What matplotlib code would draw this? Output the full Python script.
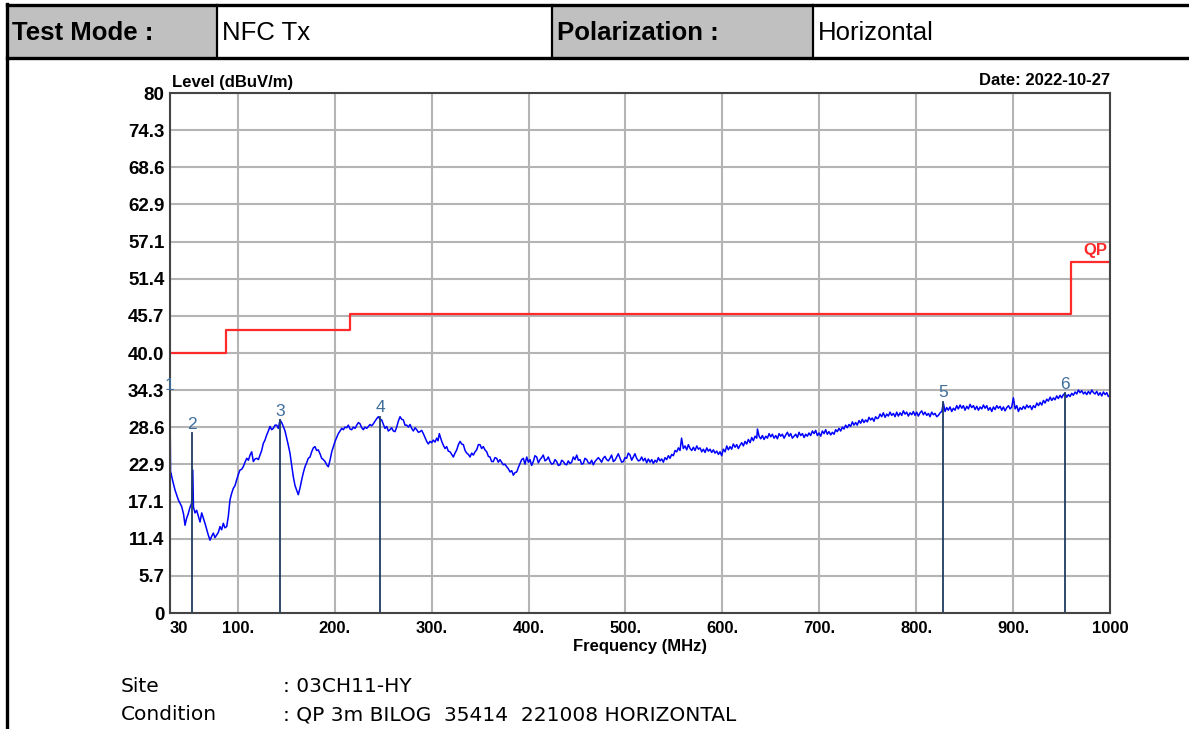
import numpy as np
import matplotlib.pyplot as plt
from matplotlib.patches import Rectangle

plt.rcParams['font.family'] = ['Liberation Sans', 'DejaVu Sans']

freq_a = [30.0, 30.6, 31.0, 33.0, 35.2, 38.6, 42.0, 44.0, 45.5, 47.0, 48.9, 50.5, 52.4, 53.5, 54.2,
          55.8, 57.5, 59.2, 61.0, 62.7, 64.4, 66.1, 67.8, 69.5, 71.3, 73.0, 74.7, 76.4, 78.2, 79.9,
          81.6, 83.3, 85.0, 86.7, 88.5, 90.2, 91.9, 93.6, 95.4, 97.1, 98.8, 100.5, 102.2, 103.9,
          105.6, 107.4, 109.2, 110.9, 112.6, 114.3, 116.0, 117.8, 119.5, 121.2, 122.9, 124.6,
          126.3, 128.0, 129.8, 131.5, 133.2, 134.9, 136.6, 138.4, 140.1, 141.8, 143.5, 145.2,
          146.9, 148.7, 150.4, 152.1, 153.8, 155.5, 157.2, 159.0, 160.7, 162.4, 164.1, 165.9,
          167.6, 169.3, 171.0, 172.7, 174.5, 176.2, 177.9, 179.6, 181.3, 183.0, 184.8, 186.5,
          188.2, 190.0, 191.7, 193.4, 195.1, 196.9, 198.6, 200.3, 202.0, 203.7, 205.5, 207.2,
          208.9, 210.6, 212.3, 214.0, 215.8, 217.5, 219.2, 221.0, 222.7, 224.4, 226.1, 227.8,
          229.5, 231.2, 233.0, 234.7, 236.4, 238.1, 239.8, 241.5, 243.3, 245.0, 246.7, 248.5,
          250.2, 251.9, 253.6, 255.3, 257.0, 258.7, 260.5, 262.2, 263.9, 265.6, 267.4, 269.1,
          270.8, 272.5, 274.3, 276.0, 277.7, 279.4, 281.1, 282.9, 284.6, 286.3, 288.0, 289.7,
          291.4, 293.1, 294.9, 296.6, 298.3, 300.0, 301.7, 303.5, 305.2, 306.6, 307.9, 310.4,
          312.1, 313.8, 315.5, 317.2, 319.0, 320.7, 322.4, 324.1, 325.9, 327.6, 329.3, 331.0,
          332.7, 334.5, 336.2, 337.9, 339.6, 341.3, 343.0, 344.8, 346.5, 348.2, 349.9, 351.6,
          353.3, 355.0, 356.8, 358.5, 360.2, 361.9, 363.6, 365.3, 367.1, 368.8, 370.5, 372.2,
          373.9, 375.6, 377.4, 379.1, 380.9, 382.6, 384.3, 386.0, 387.8, 389.5, 391.2, 392.9,
          394.6, 396.3, 398.1, 399.8, 401.5, 403.2, 404.9, 406.6, 408.4, 410.1, 411.8, 413.5,
          415.2, 417.0, 418.7, 420.4, 422.2, 423.9, 425.6, 427.3, 429.0, 430.7, 432.5, 434.2,
          435.9, 437.6, 439.3, 441.0, 442.8, 444.5, 446.2, 447.9, 449.7, 451.4, 453.1, 454.8,
          456.5, 458.2, 460.0, 461.7, 463.4, 465.1, 466.8, 468.5, 470.3, 472.0, 473.7, 475.4,
          477.1, 478.8, 480.6, 482.3, 484.0, 485.7, 487.5, 489.2, 490.9, 492.6, 494.4, 496.1,
          497.8, 499.5, 501.2, 502.9, 504.7, 506.4, 508.1, 509.8, 511.5, 513.3]
level_a = [32.3, 21.0, 21.5, 20.2, 18.9, 17.4, 16.4, 15.2, 13.5, 14.5, 15.3, 16.2, 16.9, 22.0, 16.3,
           15.4, 15.8, 14.9, 14.0, 15.4, 14.6, 13.8, 12.9, 12.0, 11.2, 11.8, 12.3, 11.6, 12.0, 12.4,
           13.3, 12.8, 13.8, 13.1, 13.3, 14.9, 17.4, 18.4, 19.2, 19.6, 20.5, 21.3, 22.0, 22.1,
           22.5, 23.2, 23.8, 23.5, 24.3, 24.8, 23.3, 23.7, 23.8, 23.6, 24.3, 25.0,
           26.1, 26.6, 27.4, 28.0, 28.7, 28.2, 28.4, 28.9, 28.9, 28.4, 29.7, 29.3,
           28.7, 28.0, 26.9, 25.8, 24.6, 22.8, 21.0, 19.6, 18.9, 18.2, 19.2, 20.5,
           21.6, 22.5, 23.1, 23.8, 24.0, 24.8, 25.4, 25.6, 25.0, 25.1, 24.5, 23.8,
           23.6, 23.3, 22.8, 22.5, 23.5, 24.8, 25.6, 26.4, 27.0, 27.6, 28.0, 28.4,
           28.2, 28.6, 28.5, 28.9, 28.3, 28.2, 28.6, 28.4, 28.9, 29.3, 29.1, 28.5,
           28.2, 28.6, 28.4, 28.7, 29.0, 28.8, 29.1, 29.5, 29.9, 30.2, 29.8, 29.7,
           29.0, 28.4, 28.7, 28.0, 28.2, 28.5, 28.0, 27.9, 28.6, 29.5, 30.2, 29.8,
           29.7, 28.9, 28.9, 28.6, 29.0, 28.4, 28.0, 28.5, 28.2, 27.8, 27.9, 28.1,
           27.6, 27.0, 26.4, 26.0, 26.4, 26.2, 26.6, 26.3, 26.9, 26.5, 27.6, 26.4,
           25.8, 25.3, 25.6, 24.9, 24.8, 24.4, 24.0, 24.6, 25.1, 25.9, 26.4, 26.0,
           25.9, 25.0, 24.6, 24.4, 24.0, 24.6, 24.3, 24.8, 25.1, 25.9, 25.9, 25.3,
           25.6, 25.1, 24.8, 24.1, 24.0, 23.3, 23.3, 23.9, 23.8, 23.2, 23.6, 23.2,
           22.8, 22.9, 22.5, 22.2, 21.7, 21.9, 21.2, 21.6, 21.7, 22.4, 23.0, 23.6,
           23.8, 22.9, 24.0, 23.2, 23.6, 22.7, 23.3, 24.2, 24.0, 23.1, 23.6, 23.9,
           24.3, 23.4, 23.6, 24.0, 23.3, 22.9, 23.0, 23.6, 23.3, 22.7, 22.8, 23.5,
           23.3, 22.9, 22.8, 23.4, 23.0, 23.2, 24.0, 23.6, 24.3, 23.5, 23.6, 22.9,
           23.0, 23.8, 23.6, 23.1, 23.0, 23.5, 22.8, 23.3, 23.6, 23.9, 23.6, 23.2,
           23.8, 24.1, 23.6, 23.4, 23.8, 24.3, 23.3, 23.5, 24.0, 24.5, 23.8, 23.2,
           23.3, 23.9, 23.8, 24.6, 24.3, 23.5, 24.0, 24.5, 23.8, 23.4]

freq_b = [515.0, 516.7, 518.4, 520.2, 521.9, 523.6, 525.4, 527.1, 528.8, 530.5,
          532.2, 533.9, 535.7, 537.4, 539.1, 540.8, 542.5, 544.3, 546.0, 547.7,
          549.4, 551.2, 552.9, 554.6, 556.3, 557.9, 559.7, 561.5, 563.2, 564.9,
          566.7, 568.4, 570.1, 571.8, 573.6, 575.3, 577.0, 578.7, 580.4, 582.1,
          583.9, 585.6, 587.3, 589.0, 590.7, 592.4, 594.2, 595.9, 597.6, 599.3,
          601.0, 602.8, 604.5, 606.2, 607.9, 609.6, 611.3, 613.1, 614.8, 616.5,
          618.2, 620.0, 621.7, 623.4, 625.1, 626.8, 628.6, 630.3, 632.0, 633.7,
          635.5, 636.2, 637.9, 639.6, 641.3, 643.0, 644.8, 646.5, 648.2, 649.9,
          651.6, 653.3, 655.1, 656.8, 658.5, 660.2, 661.9, 663.7, 665.4, 667.1,
          668.8, 670.5, 672.2, 674.0, 675.7, 677.4, 679.1, 680.8, 682.6, 684.3,
          686.0, 687.7, 689.4, 691.1, 692.9, 694.6, 696.3, 698.0, 699.7, 701.5,
          703.2, 704.9, 706.6, 708.3, 710.0, 711.8, 713.5, 715.2, 716.9, 718.6,
          720.3, 722.1, 723.8, 725.5, 727.2, 728.9, 730.7, 732.4, 734.1, 735.8,
          737.5, 739.2, 741.0, 742.7, 744.4, 746.1, 747.8, 749.6, 751.3, 753.0,
          754.7, 756.4, 758.1, 759.8]
level_b = [23.5, 24.0, 23.4, 23.8, 23.1, 23.7, 23.2, 23.6, 23.0, 23.5,
           23.2, 23.9, 23.4, 23.7, 23.2, 23.9, 23.6, 24.2, 23.8, 24.4,
           24.2, 25.0, 24.8, 25.4, 25.0, 26.9, 25.3, 25.7, 25.1, 25.9,
           25.3, 25.0, 25.5, 25.0, 25.7, 25.2, 25.4, 24.8, 25.2, 24.7,
           25.4, 24.9, 25.2, 24.7, 25.1, 24.6, 24.9, 24.4, 24.8, 24.2,
           25.2, 24.8, 25.7, 25.1, 25.6, 25.2, 26.0, 25.5, 25.9, 25.3,
           25.8, 26.2, 25.7, 26.4, 26.0, 26.7, 26.2, 27.0, 26.5, 27.2,
           26.9, 28.3, 27.2, 26.8, 27.3, 26.7, 27.2, 26.9, 27.6, 27.1,
           27.5, 26.9, 27.3, 26.8, 27.6, 27.2, 27.5, 26.9, 27.4, 27.8,
           27.2, 27.6, 26.9, 27.2, 27.5, 27.0, 27.8, 27.3, 27.6, 27.0,
           27.5, 27.2, 27.7, 27.3, 28.0, 27.6, 28.1, 27.3, 27.7, 27.2,
           28.0, 27.6, 28.2, 27.5, 27.9, 27.4, 27.8, 27.5, 28.2, 27.9,
           28.4, 28.0, 28.6, 28.3, 28.9, 28.5, 29.0, 28.7, 29.4, 28.9,
           29.3, 28.9, 29.6, 29.2, 29.8, 29.3, 29.7, 29.4, 30.1, 29.7,
           30.0, 29.5, 30.2, 29.9]

freq_c = [761.0, 762.7, 764.4, 766.1, 767.9, 769.6, 771.3, 773.0, 774.7, 776.5,
          778.2, 779.9, 781.6, 783.4, 785.1, 786.8, 788.5, 790.2, 791.9, 793.7,
          795.4, 797.1, 798.8, 800.5, 802.2, 804.0, 805.7, 807.4, 809.1, 810.9,
          812.6, 814.3, 816.0, 817.8, 819.5, 821.2, 822.9, 824.7, 826.4, 828.0,
          829.8, 831.5, 833.2, 834.9, 836.7, 838.4, 840.1, 841.8, 843.5, 845.3,
          847.0, 848.7, 850.4, 852.2, 853.9, 855.6, 857.3, 859.1, 860.8, 862.5,
          864.2, 866.0, 867.7, 869.4, 871.1, 872.8, 874.5, 876.3, 878.0, 879.7,
          881.4, 883.1, 884.9, 886.6, 888.3, 890.0, 891.7, 893.5, 895.2, 896.9,
          898.6, 900.3, 902.1, 903.8, 905.5, 907.2, 909.0, 910.7, 912.4, 914.1,
          915.8, 917.6, 919.3, 921.0, 922.7, 924.5, 926.2, 927.9, 929.6, 931.3,
          933.0, 934.7, 936.4, 938.2, 939.9, 941.6, 943.3, 945.0, 946.7, 948.5,
          950.2, 951.9, 953.6, 955.3, 957.1, 958.8, 960.5, 962.2, 964.0, 965.7,
          967.4, 969.1, 970.9, 972.6, 974.3, 976.0, 977.7, 979.5, 981.2, 982.9,
          984.6, 986.3, 988.1, 989.8, 991.5, 993.2, 995.0, 996.7, 998.3, 1000.0]
level_c = [30.0, 30.6, 30.2, 30.8, 30.1, 30.6, 30.3, 30.9, 30.4, 30.7,
           30.2, 30.9, 30.3, 30.8, 30.4, 31.1, 30.6, 30.9, 30.3, 30.8,
           30.5, 31.0, 30.4, 30.9, 30.3, 30.8, 31.1, 30.5, 30.9, 30.4,
           30.7, 30.2, 30.9, 30.5, 30.7, 30.2, 30.4, 30.8, 31.0, 32.3,
           31.0, 31.6, 31.2, 31.7, 31.0, 31.5, 31.2, 31.9, 31.4, 32.0,
           31.5, 31.9, 31.2, 31.8, 31.4, 32.1, 31.6, 31.9, 31.3, 31.8,
           31.2, 31.7, 31.4, 32.0, 31.5, 31.9, 31.2, 31.6, 31.0, 31.7,
           31.3, 31.9, 31.5, 31.8, 31.2, 31.7, 31.1, 31.6, 31.9, 31.4,
           31.7, 33.1, 31.4, 31.9, 31.0, 31.6, 31.3, 31.8, 31.4, 32.0,
           31.6, 31.9, 31.3, 31.9, 31.6, 32.3, 31.9, 32.4, 32.0, 32.7,
           32.3, 32.9, 32.6, 33.2, 32.7, 33.1, 32.8, 33.4, 33.0, 33.5,
           33.1, 33.6, 33.8, 33.2, 33.6, 33.3, 33.8, 33.5, 34.0, 33.7,
           34.3, 33.9, 34.2, 33.7, 34.0, 33.6, 34.1, 33.7, 34.3, 33.9,
           33.7, 34.1, 33.5, 33.9, 33.4, 34.0, 33.6, 33.9, 33.3, 33.5]

# QP limit steps
limit_edges = [30, 88, 216, 960, 1000]
limit_level = [40.0, 43.5, 46.0, 54.0, 54.0]

# peak markers
marker_no = ["1", "2", "3", "4", "5", "6"]
marker_freq = [30.0, 52.7, 143.5, 246.7, 828.0, 953.6]
marker_level = [33.6, 27.7, 29.7, 30.2, 32.5, 33.8]

y_ticks = [0, 5.7, 11.4, 17.1, 22.9, 28.6, 34.3, 40.0, 45.7, 51.4, 57.1, 62.9, 68.6, 74.3, 80]
y_labels = ["0", "5.7", "11.4", "17.1", "22.9", "28.6", "34.3", "40.0", "45.7", "51.4",
            "57.1", "62.9", "68.6", "74.3", "80"]
x_ticks = [30, 100, 200, 300, 400, 500, 600, 700, 800, 900, 1000]
x_labels = ["30", "100.", "200.", "300.", "400.", "500.", "600.", "700.", "800.", "900.", "1000"]

freq = freq_a + freq_b + freq_c
level = level_a + level_b + level_c

W, H = 1189, 729
fig = plt.figure(figsize=(W / 100, H / 100), dpi=100)

# page frame + header table (pixel coords)
bg = fig.add_axes([0, 0, 1, 1])
bg.set_xlim(0, W)
bg.set_ylim(H, 0)
bg.axis('off')
for x0, x1 in [(7, 217), (552, 813)]:
    bg.add_patch(Rectangle((x0, 5), x1 - x0, 53, facecolor='#c0c0c0', edgecolor='none'))
bg.plot([7, W], [5, 5], color='black', lw=2.4)
bg.plot([7, W], [58, 58], color='black', lw=2.4)
bg.plot([7, 7], [4, H], color='black', lw=2.4)
for xd in [217, 552, 813]:
    bg.plot([xd, xd], [5, 58], color='black', lw=1.6)
bg.text(12, 33, "Test Mode :", fontsize=18.5, fontweight='bold', va='center')
bg.text(222, 33, "NFC Tx", fontsize=18.5, va='center')
bg.text(557, 33, "Polarization :", fontsize=18.5, fontweight='bold', va='center')
bg.text(818, 33, "Horizontal", fontsize=18.5, va='center')

foot = ['DejaVu Sans']
bg.text(121, 687, "Site", fontsize=14.5, family=foot, va='center')
bg.text(121, 715, "Condition", fontsize=14.5, family=foot, va='center')
bg.text(283, 687, ": 03CH11-HY", fontsize=14.5, family=foot, va='center')
bg.text(283, 715, ": QP 3m BILOG  35414  221008 HORIZONTAL", fontsize=14.5, family=foot, va='center')

# main plot
ax = fig.add_axes([170 / W, (H - 613) / H, 940 / W, 520 / H])
ax.set_xlim(30, 1000)
ax.set_ylim(0, 80)
ax.set_xticks(x_ticks)
ax.set_xticklabels(x_labels, fontsize=12, fontweight='bold')
ax.get_xticklabels()[0].set_ha('left')
ax.set_yticks(y_ticks)
ax.set_yticklabels(y_labels, fontsize=13.5, fontweight='bold')
ax.tick_params(length=0, pad=4)
ax.tick_params(axis='x', pad=6)
ax.grid(True, color='#b4b4b4', lw=1.5)
ax.set_axisbelow(True)
for s in ax.spines.values():
    s.set_color('#444444')
    s.set_linewidth(1.5)

ax.step(limit_edges, limit_level, where='post', color='#ff2a2a', lw=1.6)
ax.plot(freq, level, color='#0000ff', lw=1.1)

for n, f, l in zip(marker_no, marker_freq, marker_level):
    ax.plot([f, f], [0, l], color='#1c3d63', lw=1.3)
    ax.annotate(n, (f, l), xytext=(0, 1), textcoords='offset points',
                ha='center', va='bottom', fontsize=12.5, color='#3f6e9c')

ax.text(1.0, 1.01, "Date: 2022-10-27", transform=ax.transAxes, ha='right', va='bottom',
        fontsize=12, fontweight='bold')
ax.text(0.002, 1.005, "Level (dBuV/m)", transform=ax.transAxes, ha='left', va='bottom',
        fontsize=12, fontweight='bold')
ax.text(997, 54.6, "QP", ha='right', va='bottom', fontsize=12, fontweight='bold', color='#ff2a2a')
ax.set_xlabel("Frequency (MHz)", fontsize=12, fontweight='bold', labelpad=2)

fig.savefig("out.png", dpi=100)
